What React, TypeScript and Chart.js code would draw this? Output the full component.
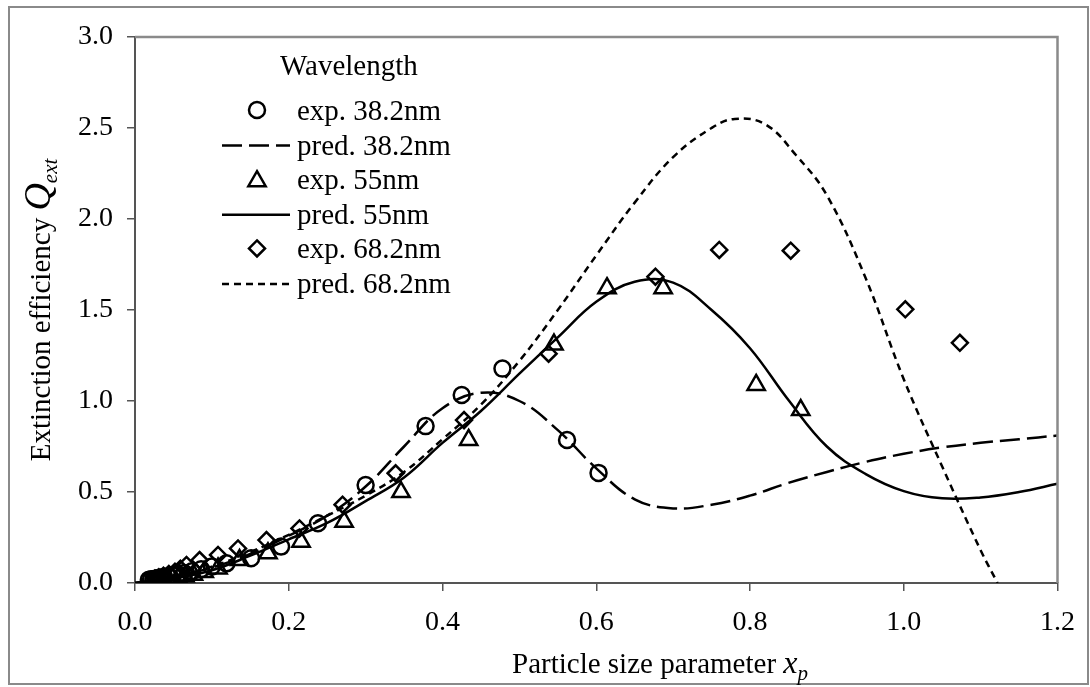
import React, { useEffect, useRef } from 'react';
import { Chart, registerables } from 'chart.js';

Chart.register(...registerables);

const FONT = '"Liberation Serif", "Times New Roman", serif';

// ---- data ----
const exp38X = [0.018, 0.021, 0.024, 0.027, 0.030, 0.034, 0.038, 0.043, 0.049, 0.056, 0.064, 0.074, 0.086, 0.100, 0.119, 0.151, 0.190, 0.238, 0.300, 0.378, 0.425, 0.478, 0.562, 0.603];
const exp38Y = [0.018, 0.020, 0.022, 0.024, 0.027, 0.030, 0.033, 0.037, 0.042, 0.048, 0.055, 0.064, 0.076, 0.090, 0.108, 0.136, 0.200, 0.328, 0.538, 0.862, 1.033, 1.178, 0.786, 0.605];

const exp55X = [0.030, 0.034, 0.038, 0.043, 0.049, 0.056, 0.065, 0.076, 0.090, 0.108, 0.136, 0.173, 0.216, 0.272, 0.346, 0.434, 0.545, 0.614, 0.687, 0.808, 0.866];
const exp55Y = [0.012, 0.014, 0.017, 0.020, 0.024, 0.029, 0.036, 0.046, 0.060, 0.080, 0.126, 0.163, 0.227, 0.337, 0.500, 0.786, 1.310, 1.620, 1.620, 1.088, 0.950];

const exp68X = [0.026, 0.031, 0.037, 0.044, 0.052, 0.059, 0.067, 0.084, 0.108, 0.134, 0.171, 0.214, 0.270, 0.339, 0.428, 0.538, 0.677, 0.760, 0.853, 1.002, 1.073];
const exp68Y = [0.025, 0.032, 0.040, 0.050, 0.062, 0.078, 0.099, 0.126, 0.154, 0.190, 0.236, 0.300, 0.430, 0.603, 0.895, 1.260, 1.683, 1.830, 1.826, 1.504, 1.320];

const predX = [0, 0.05, 0.1, 0.15, 0.2, 0.25, 0.3, 0.35, 0.4, 0.45, 0.5, 0.55, 0.6, 0.65, 0.7, 0.75, 0.8, 0.85, 0.9, 0.95, 1.0, 1.05, 1.1, 1.15, 1.2];
const pred38Y = [0, 0.035, 0.085, 0.16, 0.26, 0.37, 0.53, 0.75, 0.96, 1.045, 1.0, 0.84, 0.63, 0.46, 0.41, 0.43, 0.48, 0.55, 0.61, 0.665, 0.71, 0.745, 0.77, 0.79, 0.81];
const pred55Y = [0, 0.025, 0.07, 0.15, 0.24, 0.33, 0.45, 0.58, 0.77, 0.945, 1.15, 1.35, 1.545, 1.655, 1.65, 1.5, 1.29, 1.005, 0.75, 0.6, 0.505, 0.465, 0.47, 0.5, 0.545];

const pred68X = [0, 0.05, 0.1, 0.15, 0.2, 0.25, 0.3, 0.35, 0.4, 0.45, 0.5, 0.55, 0.6, 0.65, 0.7, 0.75, 0.78, 0.82, 0.86, 0.9, 0.95, 1.0, 1.05, 1.1, 1.122];
const pred68Y = [0, 0.035, 0.09, 0.17, 0.265, 0.37, 0.48, 0.61, 0.79, 0.98, 1.22, 1.5, 1.8, 2.09, 2.34, 2.5, 2.55, 2.52, 2.35, 2.13, 1.68, 1.12, 0.64, 0.18, 0];

const yTicks = [0, 0.5, 1.0, 1.5, 2.0, 2.5, 3.0];
const xTicks = [0, 0.2, 0.4, 0.6, 0.8, 1.0, 1.2];

const legendTitle = 'Wavelength';
const legendLabels = ['exp. 38.2nm', 'pred. 38.2nm', 'exp. 55nm', 'pred. 55nm', 'exp. 68.2nm', 'pred. 68.2nm'];
const xTitle = ['Particle size parameter ', 'x', 'p'];
const yTitle = ['Extinction efficiency ', 'Q', 'ext'];

const zip = (xs: number[], ys: number[]) => xs.map((x, i) => ({ x, y: ys[i] }));

const DASH_LONG = [20, 7];
const DASH_SHORT = [7, 5];

function drawMarker(ctx: CanvasRenderingContext2D, kind: string, x: number, y: number, r: number) {
  ctx.beginPath();
  if (kind === 'circle') {
    ctx.arc(x, y, r, 0, Math.PI * 2);
  } else if (kind === 'triangle') {
    ctx.moveTo(x, y - r);
    ctx.lineTo(x + r * Math.sin(Math.PI * 2 / 3), y - r * Math.cos(Math.PI * 2 / 3));
    ctx.lineTo(x - r * Math.sin(Math.PI * 2 / 3), y - r * Math.cos(Math.PI * 2 / 3));
    ctx.closePath();
  } else {
    ctx.moveTo(x, y - r);
    ctx.lineTo(x + r, y);
    ctx.lineTo(x, y + r);
    ctx.lineTo(x - r, y);
    ctx.closePath();
  }
  ctx.stroke();
}

const decorPlugin = {
  id: 'decor',
  afterDraw(chart: any) {
    const ctx: CanvasRenderingContext2D = chart.ctx;
    const a = chart.chartArea;
    ctx.save();
    // outer frame
    ctx.strokeStyle = '#8a8a8a';
    ctx.lineWidth = 2;
    ctx.setLineDash([]);
    ctx.strokeRect(9, 7, 1079, 677);
    // plot area top/right
    ctx.beginPath();
    ctx.moveTo(a.left, a.top);
    ctx.lineTo(a.right, a.top);
    ctx.lineTo(a.right, a.bottom);
    ctx.strokeStyle = '#8a8a8a';
    ctx.lineWidth = 2.5;
    ctx.stroke();

    ctx.fillStyle = '#000';
    ctx.strokeStyle = '#000';
    // legend
    ctx.textAlign = 'left';
    ctx.textBaseline = 'alphabetic';
    ctx.font = `29px ${FONT}`;
    ctx.fillText(legendTitle, 280, 75);
    const kinds = ['circle', 'dash', 'triangle', 'solid', 'diamond', 'short'];
    legendLabels.forEach((lab, i) => {
      const base = 120 + i * 34.6;
      ctx.fillText(lab, 297, base);
      const k = kinds[i];
      ctx.lineWidth = 2.5;
      if (k === 'circle' || k === 'triangle' || k === 'diamond') {
        const r = k === 'circle' ? 8 : k === 'triangle' ? 10 : 8;
        ctx.setLineDash([]);
        drawMarker(ctx, k, 257, base - 10 + (k === 'triangle' ? 2 : 0), r);
      } else {
        ctx.setLineDash(k === 'dash' ? DASH_LONG : k === 'short' ? DASH_SHORT : []);
        ctx.beginPath();
        ctx.moveTo(222, base - 9);
        ctx.lineTo(290, base - 9);
        ctx.stroke();
      }
    });
    ctx.setLineDash([]);

    // x title
    const segX = [
      { t: xTitle[0], f: `29px ${FONT}`, dy: 0 },
      { t: xTitle[1], f: `italic 32px ${FONT}`, dy: 0 },
      { t: xTitle[2], f: `italic 21px ${FONT}`, dy: 7 },
    ];
    let cx = 512;
    segX.forEach(s => { ctx.font = s.f; ctx.fillText(s.t, cx, 673 + s.dy); cx += ctx.measureText(s.t).width; });

    // y title (rotated)
    const segY = [
      { t: yTitle[0], f: `29px ${FONT}`, dy: 0 },
      { t: yTitle[1], f: `italic 38px ${FONT}`, dy: 0 },
      { t: yTitle[2], f: `italic 21px ${FONT}`, dy: 7 },
    ];
    let wY = 0;
    segY.forEach(s => { ctx.font = s.f; wY += ctx.measureText(s.t).width; });
    ctx.translate(50, 310);
    ctx.rotate(-Math.PI / 2);
    let cy = -wY / 2;
    segY.forEach(s => { ctx.font = s.f; ctx.fillText(s.t, cy, s.dy); cy += ctx.measureText(s.t).width; });
    ctx.restore();
  },
};

export default function App() {
  const ref = useRef<HTMLCanvasElement | null>(null);
  useEffect(() => {
    if (!ref.current) return;
    const lineBase = { showLine: true, pointRadius: 0, borderColor: '#000', borderWidth: 2.5, tension: 0.4, fill: false };
    const markBase = { showLine: false, backgroundColor: 'rgba(0,0,0,0)', borderColor: '#000', pointBorderWidth: 2.5, pointHoverRadius: 0 };
    const chart = new Chart(ref.current, {
      type: 'scatter',
      data: {
        datasets: [
          { ...markBase, label: legendLabels[0], data: zip(exp38X, exp38Y), pointStyle: 'circle', pointRadius: 8 },
          { ...lineBase, label: legendLabels[1], data: zip(predX, pred38Y), borderDash: DASH_LONG },
          { ...markBase, label: legendLabels[2], data: zip(exp55X, exp55Y), pointStyle: 'triangle', pointRadius: 10 },
          { ...lineBase, label: legendLabels[3], data: zip(predX, pred55Y) },
          { ...markBase, label: legendLabels[4], data: zip(exp68X, exp68Y), pointStyle: 'rectRot', pointRadius: 8 },
          { ...lineBase, label: legendLabels[5], data: zip(pred68X, pred68Y), borderDash: DASH_SHORT },
        ] as any,
      },
      options: {
        animation: false,
        responsive: false,
        events: [],
        layout: { padding: { left: 0, top: 37, right: 29, bottom: 0 } },
        plugins: { legend: { display: false }, tooltip: { enabled: false }, title: { display: false } },
        scales: {
          x: {
            type: 'linear',
            min: 0,
            max: 1.2,
            afterFit: (s: any) => { s.height = 104; },
            afterBuildTicks: (s: any) => { s.ticks = xTicks.map(v => ({ value: v })); },
            ticks: { font: { family: FONT, size: 28 }, color: '#000', padding: 15, maxRotation: 0, callback: (v: any) => Number(v).toFixed(1) },
            grid: { drawOnChartArea: false, drawTicks: true, tickLength: 8, color: '#555', lineWidth: 1.5 },
            border: { display: true, color: '#555', width: 2 },
          },
          y: {
            type: 'linear',
            min: 0,
            max: 3,
            afterFit: (s: any) => { s.width = 135; },
            afterBuildTicks: (s: any) => { s.ticks = yTicks.map(v => ({ value: v })); },
            ticks: { font: { family: FONT, size: 28 }, color: '#000', padding: 14, callback: (v: any) => Number(v).toFixed(1) },
            grid: { drawOnChartArea: false, drawTicks: true, tickLength: 8, color: '#555', lineWidth: 1.5 },
            border: { display: true, color: '#555', width: 2 },
          },
        },
      },
      plugins: [decorPlugin],
    });
    return () => chart.destroy();
  }, []);
  return (
    <div style={{ position: 'absolute', left: 0, top: 0, width: 1090, height: 687, background: '#fff' }}>
      <canvas ref={ref} width={1090} height={687} style={{ display: 'block', width: 1090, height: 687 }} />
    </div>
  );
}
